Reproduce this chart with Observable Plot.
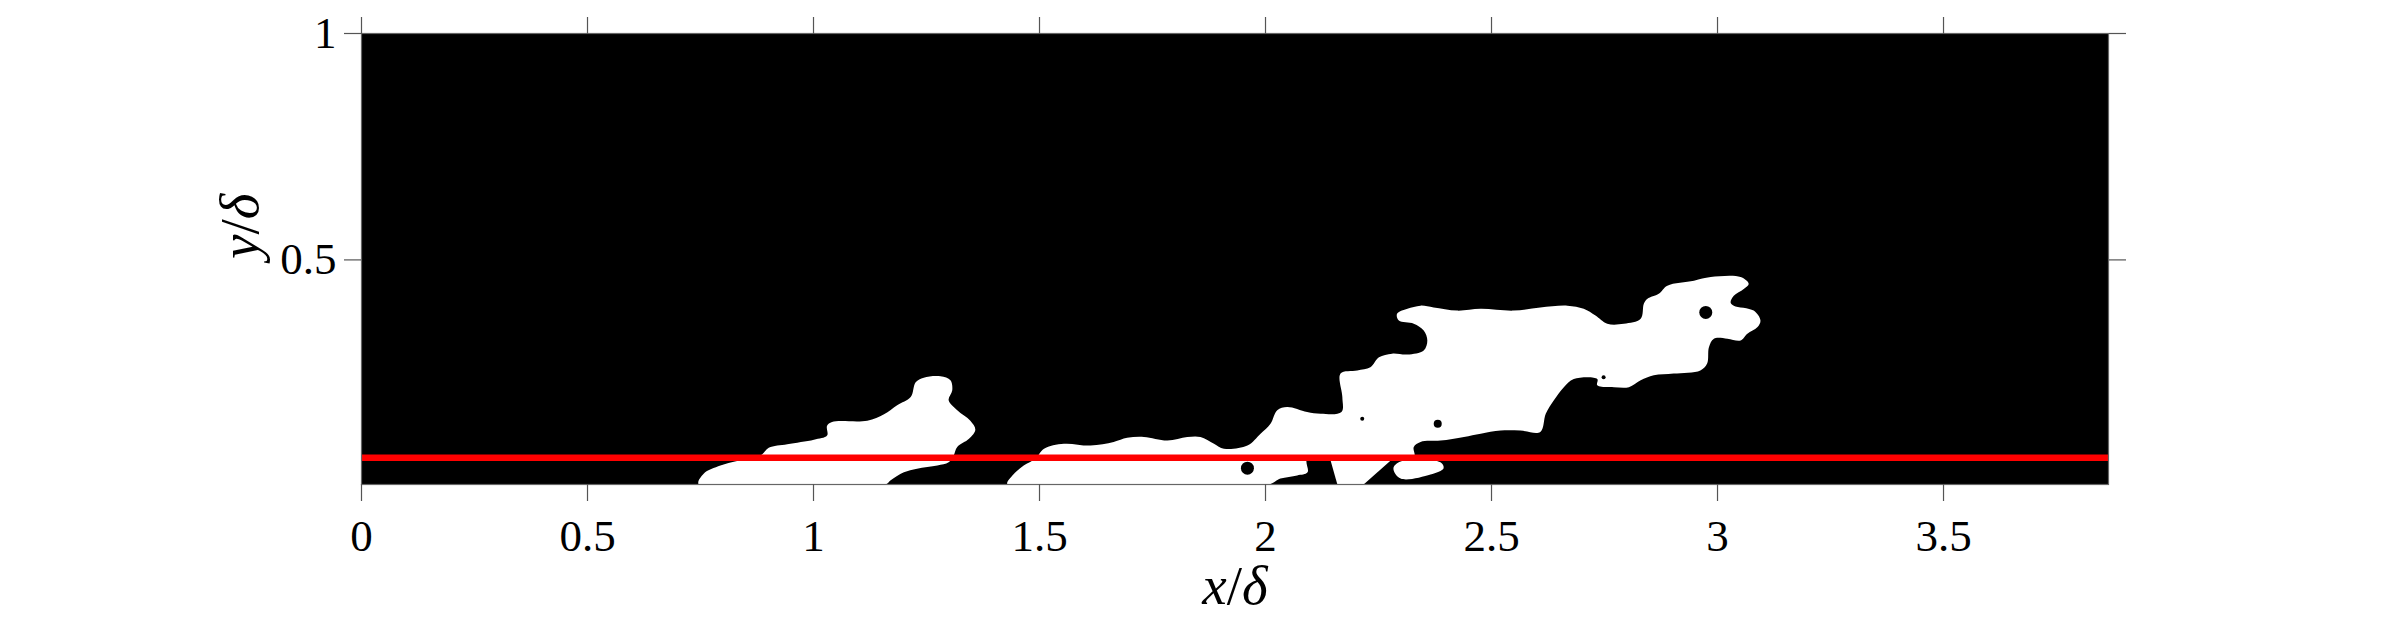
<!DOCTYPE html>
<html><head><meta charset="utf-8">
<script src="https://cdn.jsdelivr.net/npm/d3@7"></script>
<script src="https://cdn.jsdelivr.net/npm/@observablehq/plot@0.6"></script>
<style>body{margin:0;background:#fff}</style>
</head><body><div id="chart"></div>
<script>
// Axis setup
const xDomain = [0, 3.865];
const yDomain = [0.004, 1];
const xTicks = [0, 0.5, 1, 1.5, 2, 2.5, 3, 3.5];
const xTickLabels = ["0", "0.5", "1", "1.5", "2", "2.5", "3", "3.5"];
const yTicks = [0.5, 1];
const yTickLabels = ["0.5", "1"];
const xLabel = ["x", "/", "δ"];
const yLabel = ["y", "/", "δ"];

// Red reference line (y/δ)
const redLineY = 0.063;

// White (turbulent) regions: outline vertices [x/δ, y/δ]
const blobA = [
  [0.746,0.004],[0.757,0.028],[0.794,0.046],[0.831,0.056],[0.883,0.068],[0.901,0.085],
  [0.942,0.093],[1.001,0.103],[1.030,0.112],[1.030,0.134],[1.041,0.142],[1.119,0.145],
  [1.156,0.159],[1.185,0.179],[1.215,0.197],[1.226,0.230],[1.244,0.240],[1.281,0.243],
  [1.303,0.234],[1.307,0.212],[1.299,0.190],[1.318,0.168],[1.347,0.145],[1.358,0.125],
  [1.344,0.105],[1.318,0.087],[1.310,0.068],[1.299,0.053],[1.274,0.046],[1.229,0.039],
  [1.200,0.031],[1.170,0.013],[1.159,0.004]
];
const blobB = [
  [1.429,0.004],[1.440,0.024],[1.465,0.046],[1.491,0.061],[1.510,0.083],[1.554,0.094],
  [1.613,0.090],[1.664,0.098],[1.694,0.107],[1.731,0.109],[1.783,0.101],[1.827,0.109],
  [1.856,0.109],[1.886,0.094],[1.908,0.083],[1.960,0.090],[1.989,0.116],[2.011,0.138],
  [2.026,0.168],[2.048,0.175],[2.092,0.164],[2.122,0.160],[2.168,0.164],[2.170,0.197],
  [2.166,0.249],[2.203,0.256],[2.232,0.263],[2.251,0.285],[2.280,0.293],[2.314,0.291],
  [2.350,0.300],[2.358,0.322],[2.350,0.344],[2.328,0.359],[2.295,0.366],[2.291,0.381],
  [2.314,0.392],[2.343,0.399],[2.372,0.395],[2.424,0.388],[2.476,0.392],[2.549,0.388],
  [2.608,0.395],[2.668,0.399],[2.704,0.392],[2.730,0.377],[2.756,0.359],[2.793,0.359],
  [2.830,0.370],[2.837,0.403],[2.845,0.414],[2.870,0.425],[2.889,0.443],[2.948,0.454],
  [2.985,0.462],[3.051,0.462],[3.069,0.447],[3.058,0.436],[3.036,0.421],[3.029,0.406],
  [3.036,0.399],[3.080,0.388],[3.095,0.366],[3.088,0.351],[3.066,0.337],[3.051,0.322],
  [3.022,0.326],[2.992,0.326],[2.981,0.307],[2.977,0.271],[2.962,0.256],[2.903,0.249],
  [2.859,0.245],[2.830,0.234],[2.804,0.219],[2.771,0.219],[2.734,0.223],[2.734,0.237],
  [2.682,0.237],[2.660,0.219],[2.638,0.190],[2.620,0.160],[2.608,0.120],[2.564,0.123],
  [2.520,0.123],[2.476,0.116],[2.439,0.109],[2.387,0.101],[2.343,0.098],[2.328,0.087],
  [2.328,0.062],[2.093,0.062],[2.093,0.031],[2.070,0.024],[2.033,0.017],[2.007,0.004]
];
const blobC = [
  [2.144,0.057],[2.277,0.057],[2.217,0.004],[2.159,0.004]
];
const blobD = [
  [2.283,0.040],[2.299,0.055],[2.387,0.053],[2.394,0.040],[2.365,0.026],[2.299,0.017]
];

// Black holes inside white regions [x/δ, y/δ]
const holesLarge = [[1.960,0.040],[2.974,0.384]];
const holesMedium = [[2.381,0.138]];
const holesSmall = [[2.214,0.149],[2.748,0.241]];

const blobRows = [];
[["A", blobA], ["B", blobB], ["D", blobD]].forEach(([id, pts]) =>
  pts.forEach(p => blobRows.push({id, x: p[0], y: p[1]})));
const wedgeRows = blobC.map(p => ({id: "C", x: p[0], y: p[1]}));

const serif = "'Liberation Serif', 'Times New Roman', 'DejaVu Serif', serif";
const tickColor = "#555";

const plot = Plot.plot({
  width: 2407, height: 628,
  marginLeft: 361, marginRight: 299, marginTop: 33, marginBottom: 144,
  x: {domain: xDomain},
  y: {domain: yDomain},
  style: {fontFamily: serif, fontSize: "45px", background: "white", color: "black", overflow: "visible"},
  marks: [
    Plot.frame({fill: "black", stroke: null}),
    Plot.line(blobRows, {x: "x", y: "y", z: "id", fill: "white", stroke: null, curve: "catmull-rom-closed", clip: true}),
    Plot.line(wedgeRows, {x: "x", y: "y", z: "id", fill: "white", stroke: null, curve: "linear", clip: true}),
    Plot.dot(holesLarge, {x: d => d[0], y: d => d[1], r: 6.5, fill: "black", stroke: null}),
    Plot.dot(holesMedium, {x: d => d[0], y: d => d[1], r: 4, fill: "black", stroke: null}),
    Plot.dot(holesSmall, {x: d => d[0], y: d => d[1], r: 2, fill: "black", stroke: null}),
    Plot.ruleY([redLineY], {stroke: "#ff0000", strokeWidth: 6.5}),
    Plot.frame({stroke: "#666", strokeWidth: 1.2}),
    Plot.axisX({anchor: "bottom", ticks: xTicks, tickFormat: d => xTickLabels[xTicks.indexOf(d)],
      tickSize: 17, tickPadding: 18, stroke: tickColor, strokeWidth: 1.2, fill: "black", label: null}),
    Plot.axisX({anchor: "top", ticks: xTicks, tickFormat: () => "", tickSize: 17,
      stroke: tickColor, strokeWidth: 1.2, label: null}),
    Plot.axisY({anchor: "left", ticks: yTicks, tickFormat: d => yTickLabels[yTicks.indexOf(d)],
      tickSize: 17, tickPadding: 8, stroke: tickColor, strokeWidth: 1.2, fill: "black", label: null}),
    Plot.axisY({anchor: "right", ticks: yTicks, tickFormat: () => "", tickSize: 17,
      stroke: tickColor, strokeWidth: 1.2, label: null}),
    Plot.text([xLabel.join("")], {frameAnchor: "bottom", text: d => d, dy: 102, lineAnchor: "middle",
      fontSize: 55, fontStyle: "italic", fill: "black"}),
    Plot.text([yLabel.join("")], {frameAnchor: "left", text: d => d, rotate: -90, dx: -121, lineAnchor: "middle",
      fontSize: 55, fontStyle: "italic", fill: "black"})
  ]
});

function mathify(parts) {
  const label = parts.join("");
  plot.querySelectorAll("text").forEach(t => {
    if (t.textContent !== label) return;
    t.textContent = "";
    parts.forEach(p => {
      const ts = document.createElementNS("http://www.w3.org/2000/svg", "tspan");
      ts.textContent = p;
      ts.setAttribute("font-style", p === "/" ? "normal" : "italic");
      ts.style.fontStyle = p === "/" ? "normal" : "italic";
      t.appendChild(ts);
    });
  });
}
mathify(xLabel);
mathify(yLabel);

document.getElementById("chart").appendChild(plot);
</script>
</body></html>
